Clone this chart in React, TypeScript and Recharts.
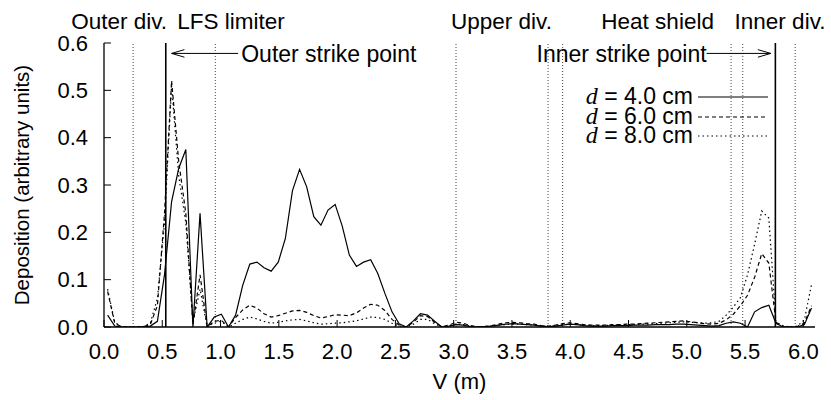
import React from 'react';
import { LineChart, Line, XAxis, YAxis, ReferenceLine, ReferenceDot } from 'recharts';

// positions along the wall (m)
const positions = [
  0.031, 0.092, 0.153, 0.214, 0.275, 0.336, 0.397, 0.458, 0.519, 0.58,
  0.641, 0.702, 0.763, 0.824, 0.885, 0.946, 1.007, 1.068, 1.129, 1.19,
  1.251, 1.312, 1.373, 1.434, 1.495, 1.556, 1.617, 1.678, 1.739, 1.8,
  1.861, 1.922, 1.983, 2.044, 2.105, 2.166, 2.227, 2.288, 2.349, 2.41,
  2.471, 2.532, 2.593, 2.654, 2.715, 2.776, 2.837, 2.898, 2.959, 3.02,
  3.081, 3.142, 3.203, 3.264, 3.325, 3.386, 3.447, 3.508, 3.569, 3.63,
  3.691, 3.752, 3.813, 3.874, 3.935, 3.996, 4.057, 4.118, 4.179, 4.24,
  4.301, 4.362, 4.423, 4.484, 4.545, 4.606, 4.667, 4.728, 4.789, 4.85,
  4.911, 4.972, 5.033, 5.094, 5.155, 5.216, 5.277, 5.338, 5.399, 5.46,
  5.521, 5.582, 5.643, 5.704, 5.765, 5.826, 5.887, 5.948, 6.009, 6.07,
];

const dep4 = [
  0.025, 0.002, 0, 0, 0, 0, 0.002, 0.012, 0.11, 0.265,
  0.335, 0.375, 0, 0.24, 0, 0.021, 0.027, 0, 0.025, 0.088,
  0.133, 0.137, 0.125, 0.118, 0.137, 0.187, 0.288, 0.333, 0.296, 0.233,
  0.215, 0.247, 0.259, 0.213, 0.152, 0.128, 0.137, 0.142, 0.113, 0.071,
  0.032, 0.007, 0, 0.013, 0.028, 0.025, 0.012, 0, 0.002, 0.005,
  0.004, 0.001, 0, 0.001, 0.002, 0.004, 0.006, 0.007, 0.006, 0.005,
  0.004, 0.002, 0.001, 0.002, 0.004, 0.006, 0.005, 0.003, 0.002, 0.002,
  0.002, 0.003, 0.003, 0.003, 0.004, 0.004, 0.004, 0.005, 0.005, 0.005,
  0.006, 0.006, 0.005, 0.004, 0.003, 0.002, 0.003, 0.008, 0.011, 0.008,
  0, 0.032, 0.041, 0.046, 0.008, 0, 0, 0, 0.005, 0.04,
];

const dep6 = [
  0.075, 0.008, 0, 0, 0, 0.001, 0.005, 0.045, 0.24, 0.52,
  0.35, 0.24, 0.005, 0.11, 0, 0.012, 0.014, 0, 0.02, 0.036,
  0.046, 0.04, 0.028, 0.021, 0.024, 0.029, 0.034, 0.035, 0.031, 0.024,
  0.019, 0.022, 0.026, 0.025, 0.024, 0.03, 0.04, 0.048, 0.046, 0.035,
  0.016, 0.004, 0, 0.01, 0.024, 0.022, 0.01, 0, 0.004, 0.01,
  0.008, 0.003, 0, 0.001, 0.003, 0.006, 0.009, 0.01, 0.009, 0.007,
  0.006, 0.003, 0.002, 0.004, 0.007, 0.009, 0.007, 0.005, 0.004, 0.004,
  0.004, 0.005, 0.005, 0.006, 0.006, 0.007, 0.008, 0.009, 0.01, 0.011,
  0.012, 0.013, 0.011, 0.009, 0.007, 0.006, 0.008, 0.015, 0.027, 0.045,
  0.067, 0.105, 0.155, 0.135, 0.01, 0, 0, 0.001, 0.008, 0.045,
];

const dep8 = [
  0.08, 0.01, 0, 0, 0, 0.001, 0.008, 0.06, 0.22, 0.51,
  0.32, 0.22, 0.01, 0.08, 0, 0.01, 0.012, 0, 0.008, 0.016,
  0.021, 0.017, 0.012, 0.008, 0.01, 0.013, 0.015, 0.016, 0.013, 0.009,
  0.006, 0.007, 0.008, 0.009, 0.011, 0.013, 0.017, 0.021, 0.02, 0.016,
  0.008, 0.002, 0, 0.006, 0.016, 0.016, 0.007, 0, 0.002, 0.006,
  0.005, 0.002, 0, 0.001, 0.002, 0.004, 0.005, 0.006, 0.006, 0.005,
  0.004, 0.002, 0.001, 0.003, 0.005, 0.006, 0.005, 0.004, 0.003, 0.003,
  0.003, 0.004, 0.004, 0.005, 0.005, 0.006, 0.006, 0.007, 0.008, 0.009,
  0.01, 0.011, 0.01, 0.009, 0.008, 0.009, 0.012, 0.025, 0.042, 0.062,
  0.11, 0.175, 0.245, 0.23, 0.01, 0.003, 0, 0.002, 0.015, 0.09,
];

const xTicks = [0, 0.5, 1, 1.5, 2, 2.5, 3, 3.5, 4, 4.5, 5, 5.5, 6];
const yTicks = [0, 0.1, 0.2, 0.3, 0.4, 0.5, 0.6];

// component boundaries (dotted) and strike points (solid)
const boundaries = [0.25, 0.955, 3.02, 3.81, 3.935, 5.38, 5.48, 5.93];
const strikePoints = [0.53, 5.76];

// region names over the frame, centred at these V values
const regionNames = ['Outer div.', 'LFS limiter', 'Upper div.', 'Heat shield', 'Inner div.'];
const regionCentres = [0.13, 1.09, 3.41, 4.75, 5.8];

const series = [
  { key: 'd4', label: '4.0 cm', dash: undefined },
  { key: 'd6', label: '6.0 cm', dash: '4 3' },
  { key: 'd8', label: '8.0 cm', dash: '1.5 3' },
];

const data = positions.map((v, i) => ({ v, d4: dep4[i], d6: dep6[i], d8: dep8[i] }));

const FONT = '"Liberation Sans", Arial, Helvetica, sans-serif';
const FS = 23;
const TOP_FS = 22.5;
const TICK_FS = 22;
const TICK_GAP = 16;

const XTick = (props: any) => {
  const { x, y, payload } = props;
  return (
    <g>
      <line x1={x} x2={x} y1={y - TICK_GAP} y2={y - TICK_GAP - 7} stroke="#000" strokeWidth={1} />
      <text x={x} y={y} dy="0.71em" textAnchor="middle" fontFamily={FONT} fontSize={TICK_FS} fill="#000">
        {payload.value.toFixed(1)}
      </text>
    </g>
  );
};

const YTick = (props: any) => {
  const { x, y, payload } = props;
  return (
    <g>
      <line x1={x + TICK_GAP} x2={x + TICK_GAP + 7} y1={y} y2={y} stroke="#000" strokeWidth={1} />
      <text x={x} y={y} dy="0.355em" textAnchor="end" fontFamily={FONT} fontSize={TICK_FS} fill="#000">
        {payload.value.toFixed(1)}
      </text>
    </g>
  );
};

const YLabel = (props: any) => {
  const vb = props.viewBox;
  const cx = vb.x + 22;
  const cy = vb.y + vb.height / 2;
  return (
    <text
      x={cx}
      y={cy}
      transform={`rotate(-90 ${cx} ${cy})`}
      textAnchor="middle"
      dy="0.355em"
      fontFamily={FONT}
      fontSize={20.5}
      fill="#000"
    >
      Deposition (arbitrary units)
    </text>
  );
};

// gnuplot style key: right-aligned text, sample line after it
const KeyBox = () => (
  <div
    style={{
      position: 'absolute',
      top: 87,
      left: 540,
      width: 232,
      fontFamily: FONT,
      fontSize: FS,
      lineHeight: '19.7px',
      color: '#000',
    }}
  >
    {series.map((s) => (
      <div key={s.key} style={{ display: 'flex', alignItems: 'center', justifyContent: 'flex-end', whiteSpace: 'nowrap' }}>
        <span>
          <span style={{ fontFamily: '"Liberation Serif", "DejaVu Serif", serif', fontStyle: 'italic', fontSize: 24 }}>d</span>
          {' = ' + s.label}
        </span>
        <svg width={76} height={10} style={{ marginLeft: 3 }}>
          <line x1={2} x2={72} y1={5} y2={5} stroke="#000" strokeWidth={1.2} strokeDasharray={s.dash} />
        </svg>
      </div>
    ))}
  </div>
);

export default function App() {
  return (
    <div style={{ position: 'absolute', left: 0, top: 0, width: 831, height: 400, background: '#fff' }}>
      <LineChart width={831} height={400} data={data} margin={{ top: 43, right: 16, left: 0, bottom: 0 }}>
        <XAxis
          dataKey="v"
          type="number"
          domain={[0, 6.1]}
          ticks={xTicks}
          allowDataOverflow
          height={73}
          tickSize={0}
          tickMargin={TICK_GAP}
          tickLine={false}
          tick={<XTick />}
          stroke="#000"
          strokeWidth={1.3}
          label={{ value: 'V (m)', position: 'insideBottom', offset: 11, fontFamily: FONT, fontSize: 22, fill: '#000' }}
        />
        <XAxis xAxisId="top" dataKey="v" type="number" domain={[0, 6.1]} orientation="top" height={0} tick={false} tickLine={false} stroke="#000" strokeWidth={1.3} />
        <YAxis
          domain={[0, 0.6]}
          ticks={yTicks}
          width={104}
          allowDataOverflow
          tickSize={0}
          tickMargin={TICK_GAP}
          tickLine={false}
          tick={<YTick />}
          stroke="#000"
          strokeWidth={1.3}
          label={<YLabel />}
        />
        <YAxis yAxisId="right" orientation="right" width={0} domain={[0, 0.6]} tick={false} tickLine={false} stroke="#000" strokeWidth={1.3} />

        {boundaries.map((b) => (
          <ReferenceLine key={'b' + b} x={b} stroke="#444" strokeWidth={1} strokeDasharray="1 2" />
        ))}
        {strikePoints.map((s) => (
          <ReferenceLine key={'s' + s} x={s} stroke="#000" strokeWidth={1.6} />
        ))}

        {regionNames.map((name, i) => (
          <ReferenceLine
            key={name}
            x={regionCentres[i]}
            stroke="none"
            label={{ value: name, position: 'top', offset: 14, fontFamily: FONT, fontSize: TOP_FS, fill: '#000' }}
          />
        ))}

        {/* strike point arrows */}
        <ReferenceLine segment={[{ x: 1.15, y: 0.578 }, { x: 0.58, y: 0.578 }]} stroke="#000" strokeWidth={1} />
        <ReferenceLine segment={[{ x: 0.58, y: 0.578 }, { x: 0.69, y: 0.586 }]} stroke="#000" strokeWidth={1} />
        <ReferenceLine segment={[{ x: 0.58, y: 0.578 }, { x: 0.69, y: 0.570 }]} stroke="#000" strokeWidth={1} />
        <ReferenceLine segment={[{ x: 5.17, y: 0.578 }, { x: 5.72, y: 0.578 }]} stroke="#000" strokeWidth={1} />
        <ReferenceLine segment={[{ x: 5.72, y: 0.578 }, { x: 5.61, y: 0.586 }]} stroke="#000" strokeWidth={1} />
        <ReferenceLine segment={[{ x: 5.72, y: 0.578 }, { x: 5.61, y: 0.570 }]} stroke="#000" strokeWidth={1} />
        <ReferenceDot
          x={1.16}
          y={0.578}
          r={0}
          stroke="none"
          fill="none"
          label={{ value: 'Outer strike point', position: 'right', offset: 2, fontFamily: FONT, fontSize: FS, fill: '#000' }}
        />
        <ReferenceDot
          x={5.17}
          y={0.578}
          r={0}
          stroke="none"
          fill="none"
          label={{ value: 'Inner strike point', position: 'left', offset: 0, fontFamily: FONT, fontSize: FS, fill: '#000' }}
        />

        {series.map((s) => (
          <Line
            key={s.key}
            dataKey={s.key}
            stroke="#000"
            strokeWidth={1.2}
            strokeDasharray={s.dash}
            dot={false}
            activeDot={false}
            isAnimationActive={false}
          />
        ))}
      </LineChart>
      <KeyBox />
    </div>
  );
}
